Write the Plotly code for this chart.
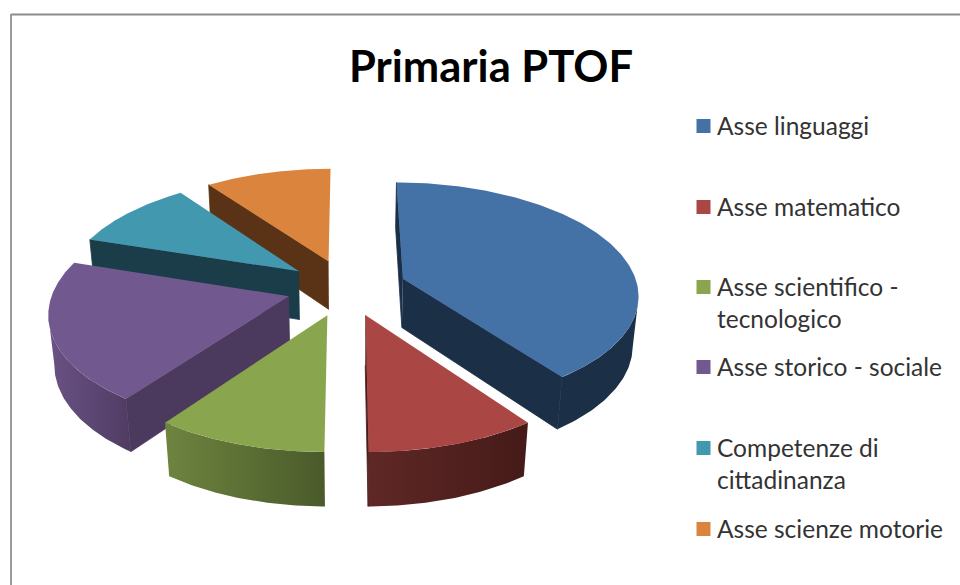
import numpy as np
import plotly.graph_objects as go

title = "Primaria PTOF"
categories = ["Asse linguaggi", "Asse matematico", "Asse scientifico -<br>tecnologico",
              "Asse storico - sociale", "Competenze di<br>cittadinanza", "Asse scienze motorie"]
values = [40, 10, 10, 20, 10, 10]
top_colors = ["#4471A6", "#AA4643", "#89A54E", "#71588F", "#4198AF", "#DB843D"]
wall_colors = ["#1B2F47", "#4A1C1A", "#5C6F35", "#4C3A5E", "#1B3D49", "#5A3317"]
arc_left = ["#1B2F47", "#5F2826", "#6E843F", "#6A5285", "#1B3D49", "#5A3317"]
arc_right = ["#1B2F47", "#451A18", "#4A5A2B", "#4F3C62", "#1B3D49", "#5A3317"]
legend_y = [126, 207, 287, 367, 448, 529]
draw_order = [5, 0, 4, 3, 1, 2]
# which straight cut faces of each slice look towards the viewer: (start edge, end edge)
visible_cuts = [(True, True), (False, True), (False, False), (True, False), (True, False), (True, False)]

# projection of the tilted 3D pie
CX, CY, A, B, DEPTH, P, Q, EXPLODE = 346.5, 287.5, 235, 111, 50, 0.13, 0.02, 0.255


def project(X, Y, z):
    s = 1 / (1 + P * Y + Q * z)
    return CX + A * X * s, CY + (-B * Y + DEPTH * z) * s


edges = np.concatenate([[0], np.cumsum(values)]) / sum(values) * 2 * np.pi
fig = go.Figure()


def poly(x, y, color, gradient=None, width=0.0):
    kw = dict(fillcolor=color)
    if gradient:
        kw = dict(fillgradient=dict(type="horizontal",
                                    colorscale=[[0, gradient[0]], [1, gradient[1]]]))
    fig.add_trace(go.Scatter(x=x, y=y, mode="lines", fill="toself",
                             line=dict(width=width, color=color),
                             hoverinfo="skip", showlegend=False, **kw))


for i in draw_order:
    t0, t1 = edges[i], edges[i + 1]
    mid = (t0 + t1) / 2
    ox, oy = EXPLODE * np.sin(mid), EXPLODE * np.cos(mid)
    th = np.linspace(t0, t1, 160)
    WX = np.concatenate([[ox], ox + np.sin(th)])
    WY = np.concatenate([[oy], oy + np.cos(th)])
    bx, by = project(WX, WY, 1)
    tx, ty = project(WX, WY, 0)
    # rounded outer wall, between the silhouette extremes of the rim
    rim = tx[1:]
    lo = th[np.argmax(rim)]
    hi = th[np.argmin(rim)]
    if hi <= lo:
        hi = t1
    if hi > lo:
        ath = np.linspace(lo, hi, 60)
        AX, AY = ox + np.sin(ath), oy + np.cos(ath)
        ax0, ay0 = project(AX, AY, 0)
        ax1, ay1 = project(AX, AY, 1)
        poly(np.concatenate([ax0, ax1[::-1]]), np.concatenate([ay0, ay1[::-1]]),
             wall_colors[i], (arc_left[i], arc_right[i]))
    # straight cut faces, drawn over the wall so no seam shows
    for a_idx, show in zip((1, len(WX) - 1), visible_cuts[i]):
        if show:
            poly([tx[0], tx[a_idx], bx[a_idx], bx[0]], [ty[0], ty[a_idx], by[a_idx], by[0]],
                 wall_colors[i], width=0.8)
    poly(tx, ty, top_colors[i])

# legend keys
fig.add_trace(go.Scatter(x=[703.5] * len(categories), y=legend_y, mode="markers",
                         marker=dict(symbol="square", size=14, color=top_colors, line=dict(width=0)),
                         hoverinfo="skip", showlegend=False))

annotations = [dict(x=491, y=65, text=f"<b>{title}</b>", showarrow=False, xanchor="center",
                    yanchor="middle", font=dict(family="Lato", size=43.5, color="#000000"))]
for name, y in zip(categories, legend_y):
    annotations.append(dict(x=715, y=y - 1, text=name, showarrow=False, xanchor="left", yanchor="top",
                            yshift=16, align="left",
                            font=dict(family="Lato", size=24.5, color="#333333")))

fig.update_layout(
    width=960, height=585, margin=dict(l=0, r=0, t=0, b=0),
    paper_bgcolor="white", plot_bgcolor="white",
    xaxis=dict(range=[0, 960], visible=False, fixedrange=True),
    yaxis=dict(range=[585, 0], visible=False, fixedrange=True),
    annotations=annotations,
    shapes=[
        dict(type="line", x0=11, x1=960, y0=14.5, y1=14.5, line=dict(color="#8C8C8C", width=2)),
        dict(type="line", x0=11, x1=11, y0=14, y1=585, line=dict(color="#9A9A9A", width=2)),
    ],
)
fig.write_html("out.html", config=dict(displayModeBar=False),
               post_script="document.body.style.margin='0';document.body.style.overflow='hidden';")
